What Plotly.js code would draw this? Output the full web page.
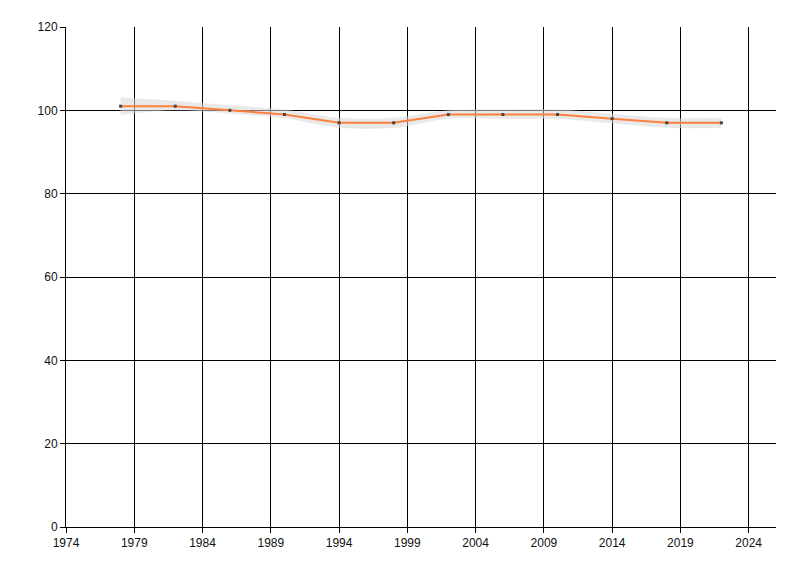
<!DOCTYPE html>
<html><head><meta charset="utf-8">
<script src="https://cdn.plot.ly/plotly-3.0.1.min.js"></script>
<style>html,body{margin:0;padding:0;background:#fff}#chart{width:800px;height:576px}</style>
</head><body><div id="chart"></div>
<script>
var years = [1978, 1982, 1986, 1990, 1994, 1998, 2002, 2006, 2010, 2014, 2018, 2022];
var values = [101, 101, 100, 99, 97, 97, 99, 99, 99, 98, 97, 97];
var upper = [103.1, 102.3, 101.2, 100.2, 98.2, 98.2, 100, 100.2, 100.2, 99.2, 98.2, 98.2];
var lower = [98.9, 100, 99.2, 98.1, 95.8, 95.8, 98, 97.9, 97.9, 96.9, 95.8, 95.8];
var xTicks = [1974, 1979, 1984, 1989, 1994, 1999, 2004, 2009, 2014, 2019, 2024];
var yTicks = [0, 20, 40, 60, 80, 100, 120];

var traces = [
  {x: years, y: lower, mode: 'lines', line: {width: 0, shape: 'spline'}, hoverinfo: 'skip', showlegend: false},
  {x: years, y: upper, mode: 'lines', line: {width: 0, shape: 'spline'}, fill: 'tonexty', fillcolor: 'rgba(215,215,215,0.55)', hoverinfo: 'skip', showlegend: false},
  {x: years, y: values, mode: 'lines+markers', line: {color: '#ff7f3f', width: 2}, marker: {symbol: 'square', size: 3, color: '#444'}, showlegend: false}
];
var layout = {
  width: 800, height: 576,
  margin: {l: 66, r: 24, t: 27, b: 49},
  paper_bgcolor: '#fff', plot_bgcolor: '#fff',
  font: {family: 'Liberation Sans, Arial, sans-serif', size: 12, color: '#111'},
  xaxis: {range: [1974, 2026], tickvals: xTicks, ticktext: xTicks.map(String), showgrid: true, gridcolor: '#000', gridwidth: 1,
          showline: true, linecolor: '#000', linewidth: 1, ticks: 'outside', ticklen: 5, tickcolor: '#000', zeroline: false},
  yaxis: {range: [0, 120], tickvals: yTicks, showgrid: true, gridcolor: '#000', gridwidth: 1,
          showline: true, linecolor: '#000', linewidth: 1, ticks: 'outside', ticklen: 5, tickcolor: '#000', zeroline: false}
};
Plotly.newPlot('chart', traces, layout, {displayModeBar: false, staticPlot: true});
</script></body></html>
